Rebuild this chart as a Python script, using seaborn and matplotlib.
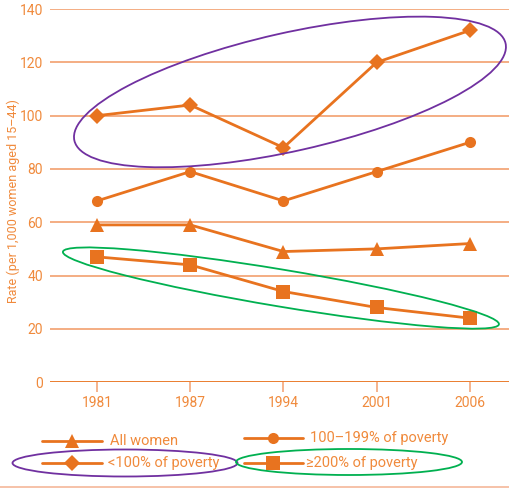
import matplotlib
matplotlib.use("Agg")
import matplotlib.pyplot as plt
from matplotlib.patches import Ellipse
from matplotlib.lines import Line2D
from matplotlib.transforms import IdentityTransform
import seaborn as sns
import pandas as pd

years = ["1981", "1987", "1994", "2001", "2006"]
all_women = [59, 59, 49, 50, 52]
below_100 = [100, 104, 88, 120, 132]
pov_100_199 = [68, 79, 68, 79, 90]
pov_200_plus = [47, 44, 34, 28, 24]

series_names = ["All women", "<100% of poverty", "100\u2013199% of poverty", "\u2265200% of poverty"]
series_values = [all_women, below_100, pov_100_199, pov_200_plus]
series_markers = ["^", "D", "o", "s"]
marker_sizes = [10, 8, 8, 10]

y_ticks = [0, 20, 40, 60, 80, 100, 120, 140]

LINE = "#E8731F"
TEXT = "#F08A3C"
GRID = "#F3A77A"
PURPLE = "#7030A0"
GREEN = "#00B050"

sns.set_theme(style="white")
plt.rcParams["font.family"] = ["Roboto", "DejaVu Sans"]

rows = []
for name, vals in zip(series_names, series_values):
    for yr, v in zip(years, vals):
        rows.append({"year": yr, "rate": v, "group": name})
df = pd.DataFrame(rows)

fig = plt.figure(figsize=(5.10, 4.88), dpi=100)
ax = fig.add_axes([0.098, 0.217, 0.902, 0.7644])

sns.lineplot(
    data=df, x="year", y="rate", hue="group", style="group",
    hue_order=series_names, style_order=series_names,
    palette=[LINE] * 4, markers=dict(zip(series_names, series_markers)),
    dashes=False, linewidth=2, markeredgewidth=0, legend=False, ax=ax,
    sort=False,
)
for line, ms in zip(ax.get_lines(), marker_sizes):
    line.set_markersize(ms)

ax.set_ylim(0, 140)
ax.set_xlim(-0.504, 4.43)
ax.set_yticks(y_ticks)
ax.set_yticklabels([str(t) for t in y_ticks], color=TEXT, fontsize=10)
for t in y_ticks[1:]:
    ax.axhline(t, color=GRID, linewidth=1.3, zorder=0)
ax.axhline(0, color=LINE, linewidth=1.3, zorder=0)
for s in ax.spines.values():
    s.set_visible(False)
ax.tick_params(axis="y", length=0, pad=5)
ax.tick_params(axis="x", length=7, width=1.2, color=GRID, direction="out",
               bottom=True, labelcolor=TEXT, labelsize=10, pad=3)
ax.set_xlabel("")
ax.set_ylabel("")
fig.text(13 / 510, 1 - 201 / 488, "Rate (per 1,000 women aged 15\u201344)", color=TEXT,
         fontsize=9, rotation=90, ha="center", va="center")

# Highlight rings around the lowest- and highest-income series
fig.canvas.draw()
def ring(center, w, h, angle, color):
    cx, cy = ax.transData.transform(center)
    e = Ellipse((cx, cy), w, h, angle=angle, fill=False, edgecolor=color,
                linewidth=1.3, transform=IdentityTransform(), clip_on=False, zorder=5)
    fig.add_artist(e)

ring((2.07, 108.9), 442, 118, 12.7, PURPLE)
ring((1.973, 35.3), 442, 37, -9.45, GREEN)

# Legend drawn as two rows of line+marker swatches
H = 488.0
def swatch(x0, x1, y, marker, ms, label, tx):
    yy = 1 - y / H
    fig.add_artist(Line2D([x0 / 510, x1 / 510], [yy, yy], color=LINE, linewidth=2,
                          transform=fig.transFigure))
    fig.add_artist(Line2D([(x0 + x1) / 2 / 510], [yy], color=LINE, marker=marker,
                          markersize=ms, markeredgewidth=0, linestyle="none",
                          transform=fig.transFigure))
    fig.text(tx / 510, yy, label, color=TEXT, fontsize=10.5, va="center", ha="left")

swatch(42, 102, 441, "^", 10, series_names[0], 110)
swatch(244, 303, 438, "o", 8, series_names[2], 310)
swatch(42, 102, 463, "D", 8, series_names[1], 108)
swatch(244, 303, 463, "s", 10, series_names[3], 306)

for (cx, cy, w, h, col) in [(125, 463, 225, 27, PURPLE), (349, 462, 226, 26, GREEN)]:
    fig.add_artist(Ellipse((cx, H - cy), w, h, fill=False, edgecolor=col,
                           linewidth=1.3, transform=IdentityTransform(), clip_on=False))

fig.add_artist(Line2D([0, 1], [1 - 486.5 / H] * 2, color="#F5B89A", linewidth=1.2,
                      transform=fig.transFigure))

fig.savefig("out.png", dpi=100)
